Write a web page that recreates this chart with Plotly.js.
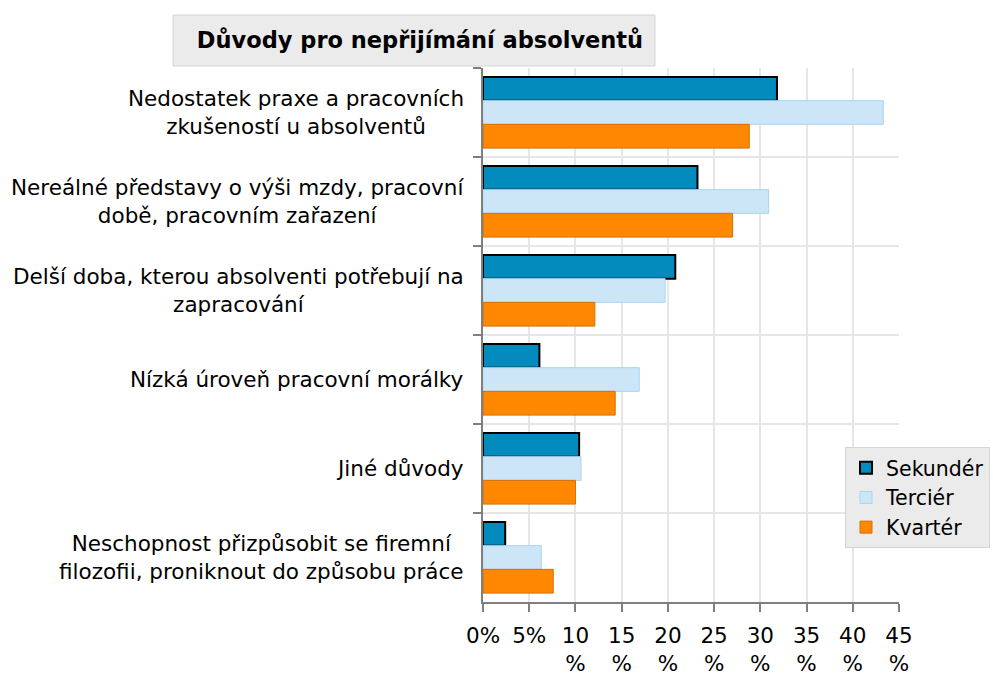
<!DOCTYPE html>
<html><head><meta charset="utf-8">
<script src="https://cdn.plot.ly/plotly-3.0.1.min.js"></script>
<style>body{margin:0;background:#fff}#c{width:993px;height:677px}</style>
</head><body><div id="c"></div>
<script>
const categories = [
  "Nedostatek praxe a pracovních<br>zkušeností u absolventů",
  "Nereálné představy o výši mzdy, pracovní<br>době, pracovním zařazení",
  "Delší doba, kterou absolventi potřebují na<br>zapracování",
  "Nízká úroveň pracovní morálky",
  "Jiné důvody",
  "Neschopnost přizpůsobit se firemní<br>filozofii, proniknout do způsobu práce"
];
const sekunder = [31.8, 23.2, 20.8, 6.1, 10.4, 2.4];
const tercier  = [43.3, 30.9, 19.7, 16.9, 10.6, 6.3];
const kvarter  = [28.8, 27.0, 12.1, 14.3, 10.0, 7.6];
const tickVals = [0,5,10,15,20,25,30,35,40,45];
const tickText = ["0%","5%","10<br>%","15<br>%","20<br>%","25<br>%","30<br>%","35<br>%","40<br>%","45<br>%"];
const titleText = "<b>Důvody pro nepřijímání absolventů</b>";

const FONT = "DejaVu Sans, Verdana, sans-serif";
const FS = 21.5;
const traces = [
  {name:"Sekundér", x:sekunder, y:categories, type:"bar", orientation:"h",
   marker:{color:"#038bbd", line:{color:"#000000", width:2}}},
  {name:"Terciér", x:tercier, y:categories, type:"bar", orientation:"h",
   marker:{color:"#cce6f7", line:{color:"#a9d3f3", width:1}}},
  {name:"Kvartér", x:kvarter, y:categories, type:"bar", orientation:"h",
   marker:{color:"#ff8800", line:{color:"#d2700c", width:1}}}
];
const annotations = categories.map(c => ({
  xref:"paper", yref:"y", x:-0.04, y:c, xanchor:"right", yanchor:"middle",
  text:c, align:"center", showarrow:false,
  font:{family:FONT, size:FS, color:"#000"}
}));
const layout = {
  width:993, height:677,
  margin:{l:483, r:94, t:68, b:75, autoexpand:false},
  paper_bgcolor:"#ffffff", plot_bgcolor:"#ffffff",
  font:{family:FONT, size:FS, color:"#000"},
  barmode:"group", bargap:0.2, bargroupgap:0,
  title:{text:titleText, x:420/993, xref:"container", xanchor:"center",
         y:1-40/677, yref:"container", yanchor:"middle",
         font:{family:FONT, size:22.5, color:"#000"}},
  shapes:[{type:"rect", xref:"paper", yref:"paper",
           x0:(173-483)/416, x1:(655-483)/416, y0:(602-66)/534, y1:(602-15)/534,
           fillcolor:"#ebebeb", line:{color:"#d4d4d4", width:1}, layer:"below"}],
  xaxis:{range:[0,45], tickvals:tickVals, ticktext:tickText, tickangle:0, showgrid:true,
         gridcolor:"#e6e6e6", gridwidth:2, zeroline:false, showline:true,
         linecolor:"#7f7f7f", linewidth:2, ticks:"outside", ticklen:8, tickcolor:"#7f7f7f",
         tickwidth:2, mirror:false, fixedrange:true, tickfont:{size:FS},
         ticklabelstandoff:5, automargin:false},
  yaxis:{type:"category", autorange:"reversed", showticklabels:false,
         tickson:"boundaries", ticks:"outside", ticklen:8, tickcolor:"#7f7f7f", tickwidth:2,
         showgrid:true, gridcolor:"#e6e6e6", gridwidth:2, automargin:false,
         showline:true, linecolor:"#7f7f7f", linewidth:2, zeroline:false},
  annotations:annotations,
  legend:{x:(845-483)/416, y:(602-447)/534, xanchor:"left", yanchor:"top",
          bgcolor:"#ebebeb", bordercolor:"#d4d4d4", borderwidth:1,
          font:{family:FONT, size:20.5, color:"#000"}, tracegroupgap:0, itemwidth:30},
  showlegend:true
};
Plotly.newPlot("c", traces, layout, {displayModeBar:false, staticPlot:true});
</script></body></html>
